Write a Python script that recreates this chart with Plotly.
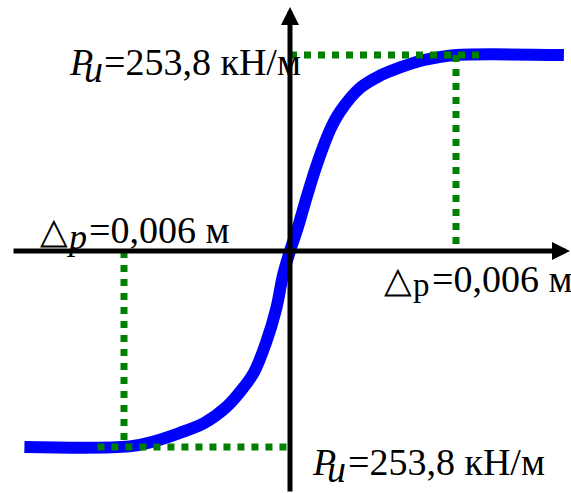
import plotly.graph_objects as go

# Load-displacement curve: displacement (m) vs resistance (kN/m)
disp_m = [-0.0096, -0.0058, -0.0050, -0.0040, -0.0031, -0.0023, -0.00175, -0.0013,
          -0.00087, -0.0005, -0.00025, 0.0, 0.00028, 0.00062, 0.00100, 0.00145,
          0.0018, 0.00253, 0.00325, 0.0040, 0.0047, 0.0054, 0.0060, 0.0099]
force_kn = [-253.8, -253.0, -247.3, -235.7, -222.7, -202.0, -180.0, -157.0,
            -119.0, -75.0, -31.0, 0.0, 30.0, 72.0, 115.0, 157.0,
            180.0, 211.0, 227.0, 238.0, 246.0, 251.0, 253.8, 253.8]

# Ultimate resistance and displacement at yield
P_u = 253.8
delta_p = 0.006

# Label pieces: (text, left px, baseline px, italic, font size)
label_pu_top = [("P", 67, 75, True, 38), ("u", 82, 82, True, 38),
                ("=253,8 кН/м", 102, 75, False, 38)]
label_pu_bottom = [("P", 310, 475, True, 38), ("u", 325, 482, True, 38),
                   ("=253,8 кН/м", 346, 475, False, 38)]
label_dp_left = [("△", 38, 243, False, 36), ("p", 64, 249, True, 36),
                 ("=0,006 м", 87, 243, False, 38)]
label_dp_right = [("△", 382, 292, False, 36), ("p", 411, 296, False, 33),
                  ("=0,006 м", 430, 292, False, 38)]

W, H = 571, 493
OX, OY = 290, 251          # origin position in pixels
KX = delta_p / 166          # metres per pixel
KY = P_u / 196              # kN/m per pixel

x_range = [-OX * KX, (W - OX) * KX]
y_range = [-(H - OY) * KY, OY * KY]

fig = go.Figure()

fig.add_trace(go.Scatter(
    x=disp_m, y=force_kn, mode="lines",
    line=dict(color="#0000ff", width=12, shape="spline", smoothing=1.0),
    hoverinfo="skip"))

green = dict(color="#008000", width=7, dash="dot")
fig.add_trace(go.Scatter(x=[0, 1.14 * delta_p], y=[P_u, P_u], mode="lines",
                         line=green, hoverinfo="skip"))
fig.add_trace(go.Scatter(x=[delta_p, delta_p], y=[P_u, 0.03 * P_u], mode="lines",
                         line=green, hoverinfo="skip"))
fig.add_trace(go.Scatter(x=[-1.16 * delta_p, 0], y=[-P_u, -P_u], mode="lines",
                         line=green, hoverinfo="skip"))
fig.add_trace(go.Scatter(x=[-delta_p, -delta_p], y=[0, -0.965 * P_u], mode="lines",
                         line=green, hoverinfo="skip"))

annotations = [
    # horizontal axis with arrow
    dict(x=(W - 1 - OX) * KX, y=0, ax=-(OX - 12) * KX, ay=0,
         xref="x", yref="y", axref="x", ayref="y", text="",
         showarrow=True, arrowhead=2, arrowsize=0.72, arrowwidth=5, arrowcolor="black"),
    # vertical axis with arrow
    dict(x=0, y=(OY - 7) * KY, ax=0, ay=-(H - OY) * KY,
         xref="x", yref="y", axref="x", ayref="y", text="",
         showarrow=True, arrowhead=2, arrowsize=0.72, arrowwidth=5, arrowcolor="black"),
]

for label in (label_pu_top, label_pu_bottom, label_dp_left, label_dp_right):
    for txt, px, base, italic, size in label:
        mid = base - 0.3375 * size
        font = dict(family="Liberation Serif", size=size, color="black")
        if italic:
            font["style"] = "italic"
        annotations.append(dict(
            text=txt, x=px / W, y=1 - mid / H, xref="paper", yref="paper",
            xanchor="left", yanchor="middle", showarrow=False, font=font))

fig.update_layout(
    width=W, height=H, margin=dict(l=0, r=0, t=0, b=0),
    font=dict(family="Liberation Serif"),
    paper_bgcolor="white", plot_bgcolor="white", showlegend=False,
    xaxis=dict(range=x_range, visible=False),
    yaxis=dict(range=y_range, visible=False),
    annotations=annotations,
)

fig.write_html("out.html")
